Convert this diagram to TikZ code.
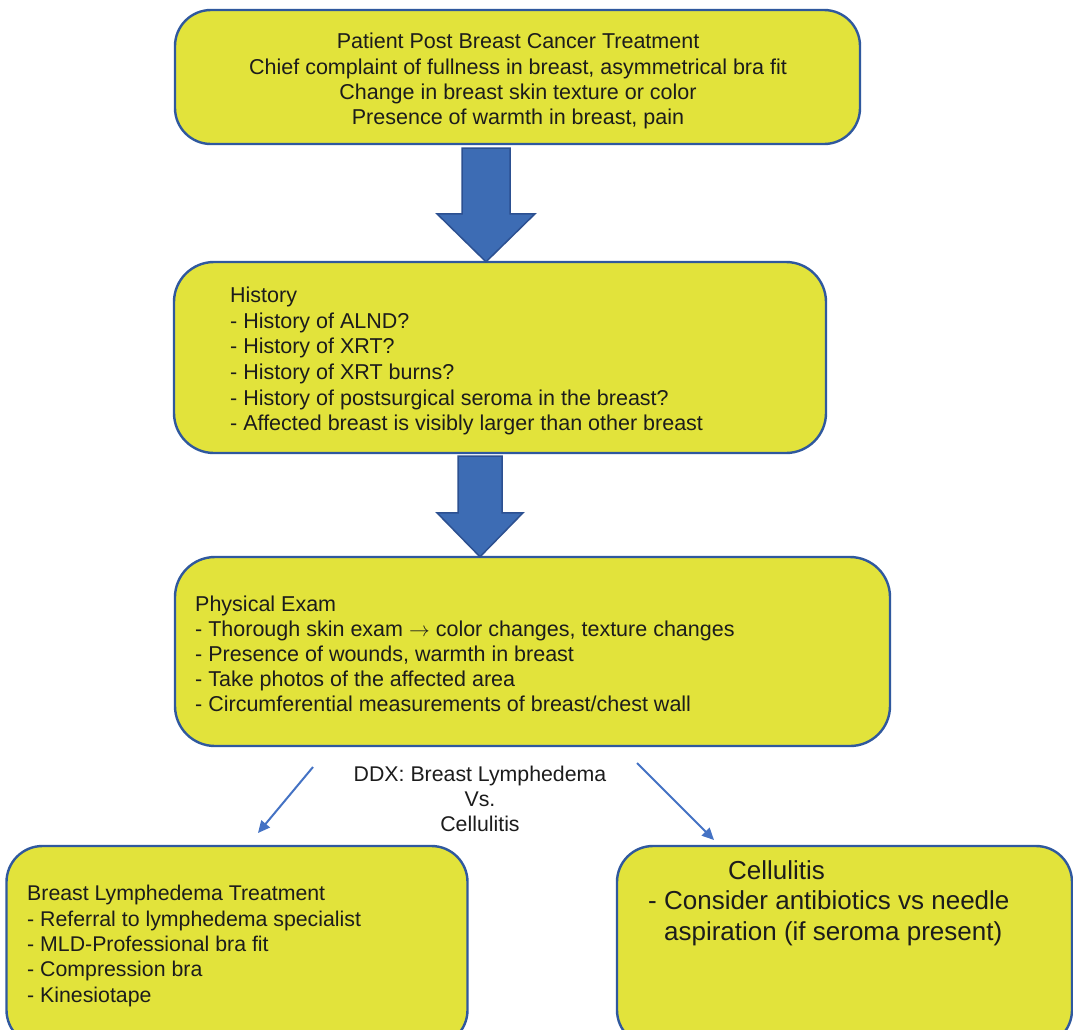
\documentclass[tikz,border=0pt]{standalone}
\usepackage{fontspec}
\setmainfont{Liberation Sans}
\usetikzlibrary{arrows.meta,calc}
\definecolor{boxfill}{RGB}{226,227,59}
\definecolor{boxline}{RGB}{47,88,158}
\definecolor{arrfill}{RGB}{61,108,180}
\definecolor{arrline}{RGB}{44,80,145}
\definecolor{thinblue}{RGB}{68,114,196}
\definecolor{txt}{RGB}{28,28,28}
\begin{document}
\begin{tikzpicture}[x=1pt,y=-1pt,
  box/.style={draw=boxline, line width=2.4pt, fill=boxfill, rounded corners=#1, inner sep=0pt, rectangle},
  txtnode/.style={inner sep=0pt, text=txt, font=\fontsize{21.5}{25.4}\selectfont},
  blockarrow/.style={fill=arrfill, draw=arrline, line width=1.5pt, line join=miter},
  thinarrow/.style={draw=thinblue, line width=2pt, -{Triangle[length=12pt,width=11pt]}}
]
\useasboundingbox (0,0) rectangle (1073,1029);
\clip (0,0) rectangle (1073,1029);
\fill[white] (0,0) rectangle (1073,1029);

% boxes
\node[box=36pt, minimum width=685pt, minimum height=134pt] (b1) at (517.5,77) {};
\node[box=40pt, minimum width=652pt, minimum height=191pt] (b2) at (500,357.5) {};
\node[box=40pt, minimum width=715pt, minimum height=189pt] (b3) at (532.5,651.5) {};
\node[box=36pt, minimum width=461pt, minimum height=200pt] (b4) at (237,946) {};
\node[box=36pt, minimum width=455pt, minimum height=200pt] (b5) at (844.5,946) {};

% texts
\node[txtnode, anchor=north, align=center] (t1) at (518,33)
  {Patient Post Breast Cancer Treatment\\
   Chief complaint of fullness in breast, asymmetrical bra fit\\
   Change in breast skin texture or color\\
   Presence of warmth in breast, pain};

\node[txtnode, anchor=north west, align=left, font=\fontsize{21.5}{25.6}\selectfont] (t2) at (230,287)
  {History\\
   - History of ALND?\\
   - History of XRT?\\
   - History of XRT burns?\\
   - History of postsurgical seroma in the breast?\\
   - Affected breast is visibly larger than other breast};

\node[txtnode, anchor=north west, align=left, font=\fontsize{21.5}{25}\selectfont] (t3) at (195,596)
  {Physical Exam\\
   - Thorough skin exam $\rightarrow$ color changes, texture changes\\
   - Presence of wounds, warmth in breast\\
   - Take photos of the affected area\\
   - Circumferential measurements of breast/chest wall};

\node[txtnode, anchor=north, align=center, font=\fontsize{21.3}{25}\selectfont] (ddx) at (480,766)
  {DDX: Breast Lymphedema\\ Vs.\\ Cellulitis};

\node[txtnode, anchor=north west, align=left, font=\fontsize{21.3}{25.4}\selectfont] (t4) at (27,885)
  {Breast Lymphedema Treatment\\
   - Referral to lymphedema specialist\\
   - MLD-Professional bra fit\\
   - Compression bra\\
   - Kinesiotape};

\node[txtnode, anchor=north west, font=\fontsize{26}{31}\selectfont] (t5a) at (728,860) {Cellulitis};
\node[txtnode, anchor=north west, align=left, font=\fontsize{26}{31}\selectfont] (t5b) at (648,890)
  {- Consider antibiotics vs needle\\
   \hphantom{- }aspiration (if seroma present)};

% block arrows
\coordinate (s1) at (486,0 |- b1.south);
\coordinate (p1) at (486,0 |- b2.north);
\filldraw[blockarrow] ($(s1)+(-24,3)$) -- ($(s1)+(24,3)$) -- ($(p1)+(24,-47)$) -- ($(p1)+(49,-47)$)
  -- ($(p1)+(0,1)$) -- ($(p1)+(-49,-47)$) -- ($(p1)+(-24,-47)$) -- cycle;

\coordinate (s2) at (480,0 |- b2.south);
\coordinate (p2) at (480,0 |- b3.north);
\filldraw[blockarrow] ($(s2)+(-22,2)$) -- ($(s2)+(22,2)$) -- ($(p2)+(22,-43)$) -- ($(p2)+(43,-43)$)
  -- ($(p2)+(0,1)$) -- ($(p2)+(-43,-43)$) -- ($(p2)+(-22,-43)$) -- cycle;

% thin arrows
\coordinate (l0) at (313,767);
\coordinate (l1) at (258,833);
\coordinate (r0) at (637,763);
\coordinate (r1) at (714,840);
\draw[thinarrow] (l0) -- (l1);
\draw[thinarrow] (r0) -- (r1);
\end{tikzpicture}
\end{document}
